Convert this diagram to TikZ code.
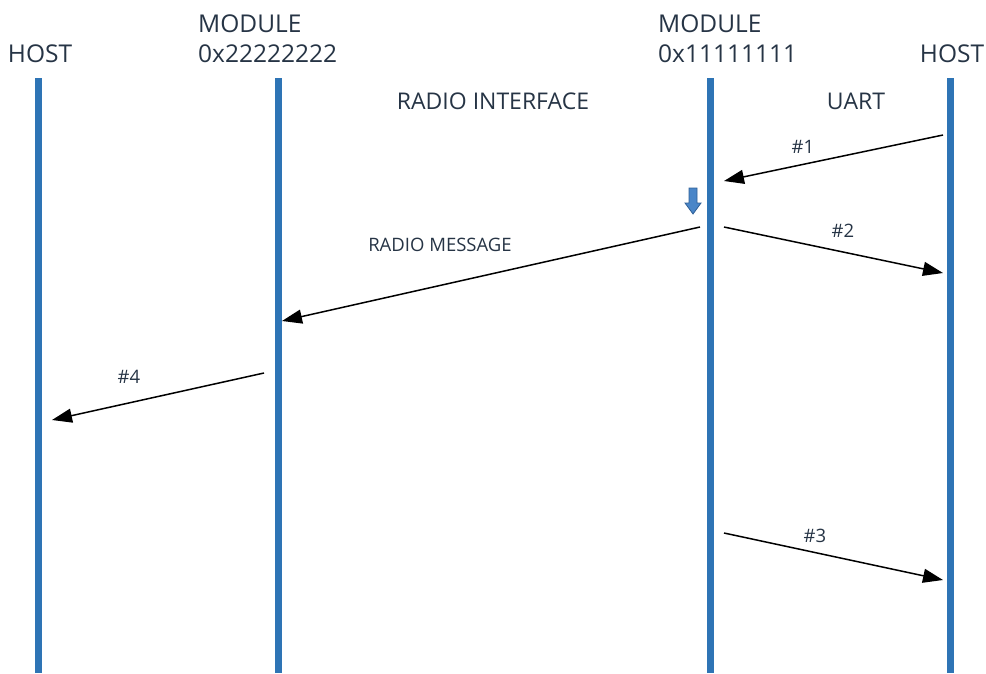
\documentclass[tikz,border=0pt]{standalone}
\usepackage{fontspec}
\setmainfont{Open Sans}
\usetikzlibrary{arrows.meta}
\definecolor{lifeblue}{HTML}{2E74B5}
\definecolor{txt}{HTML}{263445}
\definecolor{darrow}{HTML}{4A86C8}
\definecolor{darrowline}{HTML}{2F5F96}
\begin{document}
\begin{tikzpicture}[x=1pt,y=-1pt,
  lifeline/.style={draw=lifeblue,line width=7pt},
  msg/.style={draw=black,line width=1.5pt,-{Triangle[length=20pt,width=14pt]}},
  head/.style={text=txt,font=\fontsize{24.5}{30}\selectfont,inner sep=0pt},
  zone/.style={text=txt,font=\fontsize{23}{28}\selectfont,inner sep=0pt},
  lbl/.style={text=txt,font=\fontsize{18.5}{22}\selectfont,inner sep=0pt}]
\useasboundingbox (0,0) rectangle (986,673);
% lifelines
\coordinate (h1t) at (38,78); \coordinate (h1b) at (38,673);
\coordinate (m2t) at (278,78); \coordinate (m2b) at (278,673);
\coordinate (m1t) at (710,78); \coordinate (m1b) at (710,673);
\coordinate (h2t) at (950,78); \coordinate (h2b) at (950,673);
\draw[lifeline] (h1t) -- (h1b);
\draw[lifeline] (m2t) -- (m2b);
\draw[lifeline] (m1t) -- (m1b);
\draw[lifeline] (h2t) -- (h2b);
% headers
\node[head,anchor=base] (hostL) at (40,62) {HOST};
\node[head,anchor=base west] (mod2a) at (198,32) {MODULE};
\node[head,anchor=base west] (mod2b) at (198,62) {0x22222222};
\node[head,anchor=base west] (mod1a) at (658,32) {MODULE};
\node[head,anchor=base west] (mod1b) at (658,62) {0x11111111};
\node[head,anchor=base] (hostR) at (952,62) {HOST};
\node[zone,anchor=base] (radio) at (493,109) {RADIO INTERFACE};
\node[zone,anchor=base] (uart) at (856,109) {UART};
% message endpoints
\coordinate (a1s) at (943,135); \coordinate (a1e) at (724,181);
\coordinate (a2s) at (724,227); \coordinate (a2e) at (943,273);
\coordinate (rms) at (700,227); \coordinate (rme) at (282,321);
\coordinate (a4s) at (264,373); \coordinate (a4e) at (52,420);
\coordinate (a3s) at (724,533); \coordinate (a3e) at (943,580);
\draw[msg] (a1s) -- (a1e);
\draw[msg] (a2s) -- (a2e);
\draw[msg] (rms) -- (rme);
\draw[msg] (a4s) -- (a4e);
\draw[msg] (a3s) -- (a3e);
% labels
\node[lbl,anchor=base] (l1) at (803,153) {\#1};
\node[lbl,anchor=base] (l2) at (843,237) {\#2};
\node[lbl,anchor=base] (lrm) at (440,251) {RADIO MESSAGE};
\node[lbl,anchor=base] (l4) at (129,383) {\#4};
\node[lbl,anchor=base] (l3) at (815,542) {\#3};
% small down arrow
\draw[fill=darrow,draw=darrowline,line width=0.8pt]
  (689,188) -- (697,188) -- (697,203) -- (701,203) -- (693,214) -- (685,203) -- (689,203) -- cycle;
\end{tikzpicture}
\end{document}
